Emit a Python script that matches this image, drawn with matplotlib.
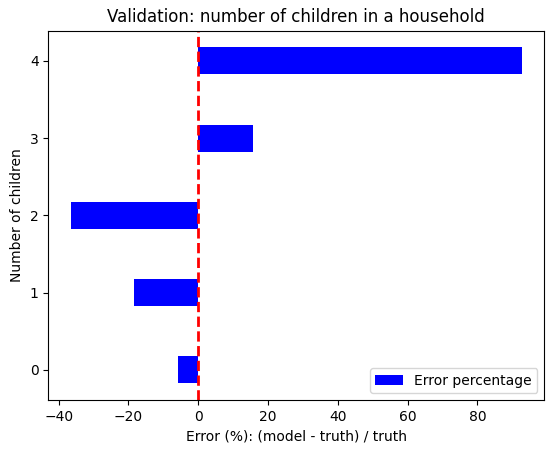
import matplotlib; matplotlib.use("Agg")
import matplotlib.pyplot as plt

# data
children = [0, 1, 2, 3, 4]
error_pct = [-5.7, -18.4, -36.5, 15.6, 92.7]

W, H = 554, 453
fig = plt.figure(figsize=(W/100, H/100), dpi=100)
ax = fig.add_axes([48.3/W, 1-400/H, (544.3-48.3)/W, (400-30.7)/H])
ax.barh(children, error_pct, height=0.35, color="blue", label="Error percentage")
ax.axvline(0, color="red", linestyle="--", linewidth=2)
ax.set_yticks(children)
ax.set_title("Validation: number of children in a household")
ax.set_xlabel("Error (%): (model - truth) / truth")
ax.set_ylabel("Number of children")
ax.legend(loc="lower right")
fig.savefig("out.png", dpi=100)
